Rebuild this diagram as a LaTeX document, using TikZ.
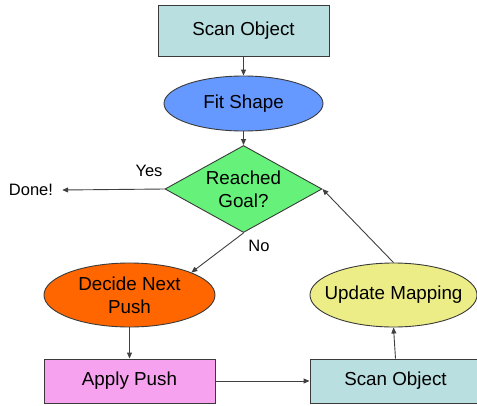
\documentclass[tikz,border=0pt]{standalone}
\usepackage{fontspec}
\setmainfont{Liberation Sans}
\usetikzlibrary{shapes.geometric,arrows.meta}
\definecolor{cscan}{HTML}{B9DFE0}
\definecolor{cfit}{HTML}{6699FF}
\definecolor{cgoal}{HTML}{66F27A}
\definecolor{cdecide}{HTML}{FF6600}
\definecolor{cupdate}{HTML}{EDED88}
\definecolor{capply}{HTML}{F7A2EE}
\definecolor{cline}{HTML}{404040}
\begin{document}
\begin{tikzpicture}[x=1pt,y=-1pt,
  nfont/.style={font=\fontsize{18.8}{23}\selectfont},
  box/.style={draw=cline!90!black,line width=0.9pt,inner sep=0pt,align=center,nfont},
  rbox/.style={box,rectangle},
  ebox/.style={box,ellipse},
  etext/.style={inner sep=0pt,align=center,nfont},
  dbox/.style={box,diamond,shape aspect=1.8},
  lab/.style={inner sep=0pt,font=\fontsize{16.5}{20}\selectfont},
  conn/.style={draw=cline,line width=0.9pt,-{Triangle[length=6pt,width=5pt]}}]
\useasboundingbox (0,0) rectangle (477,405);
\clip (0,0) rectangle (477,405);
\fill[white] (0,0) rectangle (477,405);
\node[rbox,fill=cscan,minimum width=171,minimum height=51] (scan1) at (243.5,30.5) {Scan Object};
\node[ebox,fill=cfit,minimum width=159,minimum height=55] (fit) at (243.5,103.5) {};
\node[etext] (fitt) at (fit.center) {Fit Shape};
\node[dbox,fill=cgoal,minimum width=157,minimum height=87] (goal) at (243.5,189) {Reached\\Goal?};
\node[lab,inner xsep=9pt] (done) at (31,190) {Done!};
\node[lab] (yes) at (149,171) {Yes};
\node[lab] (no) at (259,246) {No};
\node[ebox,fill=cdecide,minimum width=171,minimum height=64] (decide) at (129.5,295) {};
\node[etext] (decidet) at (decide.center) {Decide Next\\Push};
\node[ebox,fill=cupdate,minimum width=167,minimum height=64] (update) at (393.5,295) {};
\node[etext] (updatet) at (update.center) {Update Mapping};
\node[rbox,fill=capply,minimum width=171,minimum height=44] (apply) at (129.5,381) {Apply Push};
\node[rbox,fill=cscan,minimum width=171,minimum height=44] (scan2) at (395.5,381) {Scan Object};
\draw[conn] (scan1.south) -- (fit.north);
\draw[conn] (fit.south) -- (goal.north);
\draw[conn] (goal.west) -- (done.east);
\draw[conn] (goal.south) -- (decide.20);
\draw[conn] (decide.south) -- (apply.north);
\draw[conn] (apply.east) -- (scan2.west);
\draw[conn] (scan2.north) -- (update.south);
\draw[conn] (update.north) -- (goal.east);
\end{tikzpicture}
\end{document}
